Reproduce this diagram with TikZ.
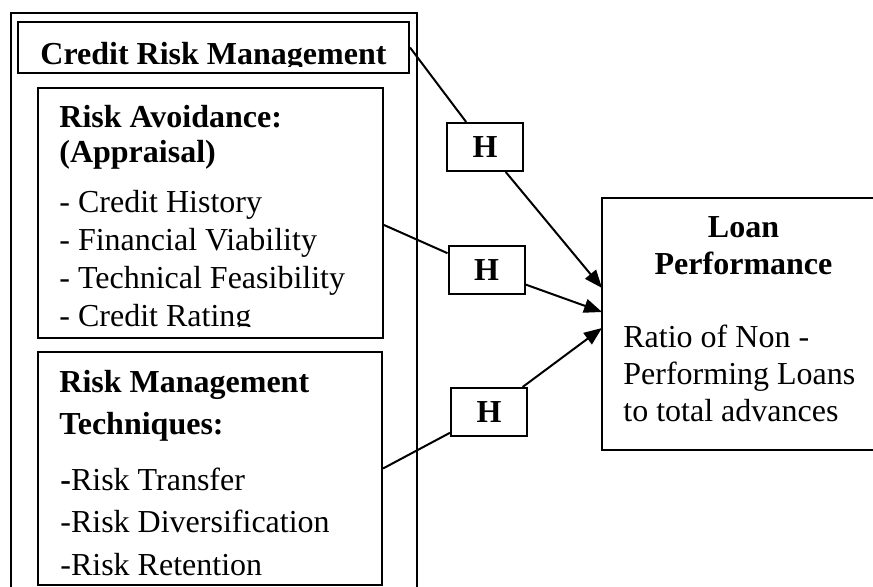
\documentclass[tikz,border=0pt]{standalone}
\usepackage{fontspec}
\setmainfont{Liberation Serif}
\usetikzlibrary{calc, fit, arrows.meta}

\begin{document}
\begin{tikzpicture}[
		x=0.5pt, y=-0.5pt,
		font=\fontsize{16pt}{18pt}\selectfont,
		frame/.style={draw, line width=1pt, inner sep=0},
		hyp/.style={draw, fill=white, line width=1pt, minimum width=38pt, minimum height=24pt,
			inner sep=0, font=\fontsize{16pt}{18pt}\selectfont\bfseries},
		head/.style={anchor=base west, inner sep=0, font=\fontsize{16pt}{18pt}\selectfont\bfseries},
		item/.style={anchor=base west, inner sep=0},
		link/.style={line width=1pt},
		arrowlink/.style={link, -{Triangle[length=9pt, width=7pt]}}]
		\useasboundingbox (0,0) rectangle (873,587);
		\clip (0,0) rectangle (873,587);
		% boxes
		\node[frame, fit={(11,13) (417,620)}] (outer) {};
		\node[frame, fit={(18,22) (409,73)}] (crm) {};
		\node[frame, fit={(38,88) (383,338)}] (rav) {};
		\node[frame, fit={(38,352) (382,585)}] (rmt) {};
		\node[frame, fit={(602,198) (890,450)}] (lp) {};
		% texts (cut off at the bottom as in the text boxes)
		\begin{scope}
			\clip (18,22) rectangle (409,67);
			\node[head, anchor=base] (crmtitle) at (213.5,65) {Credit Risk Management};
		\end{scope}
		\begin{scope}
			\clip (38,88) rectangle (383,327);
			\node[head] (ravtitle) at (59,128) {Risk Avoidance:};
			\node[head] (ravsub) at (59,163) {(Appraisal)};
			\foreach \txt [count=\i] in {Credit History, Financial Viability, Technical Feasibility, Credit Rating}
				\node[item] (ra\i) at (59, {213+37.7*(\i-1)}) {- \txt};
		\end{scope}
		\node[head] (rmttitle) at (59,393) {Risk Management};
		\node[head] (rmtsub) at (59,435) {Techniques:};
		\node[item] (rm1) at (60,491) {{\bfseries -}Risk Transfer};
		\node[item] (rm2) at (60,532) {-Risk Diversification};
		\node[item] (rm3) at (60,575) {-Risk Retention};
		\node[head, anchor=base] (lptitle) at (743.5,238) {Loan};
		\node[head, anchor=base] (lpsub) at (743.5,275) {Performance};
		\foreach \txt [count=\i] in {Ratio of Non -, Performing Loans, to total advances}
			\node[item] (lr\i) at (623, {348+37*(\i-1)}) {\txt};
		% hypotheses
		\node[hyp] (h1) at (485,147) {H};
		\node[hyp] (h2) at (486.5,270.5) {H};
		\node[hyp] (h3) at (489,412) {H};
		\coordinate (tip1) at (602,288);
		\coordinate (tip2) at (602,312);
		\coordinate (tip3) at (602,328);
		\draw[arrowlink] (crm.east) -- (h1) -- (tip1);
		\draw[arrowlink] ($(rav.east)+(0,12)$) -- (h2) -- (tip2);
		\draw[arrowlink] (rmt.east) -- (h3) -- (tip3);
\end{tikzpicture}
\end{document}
